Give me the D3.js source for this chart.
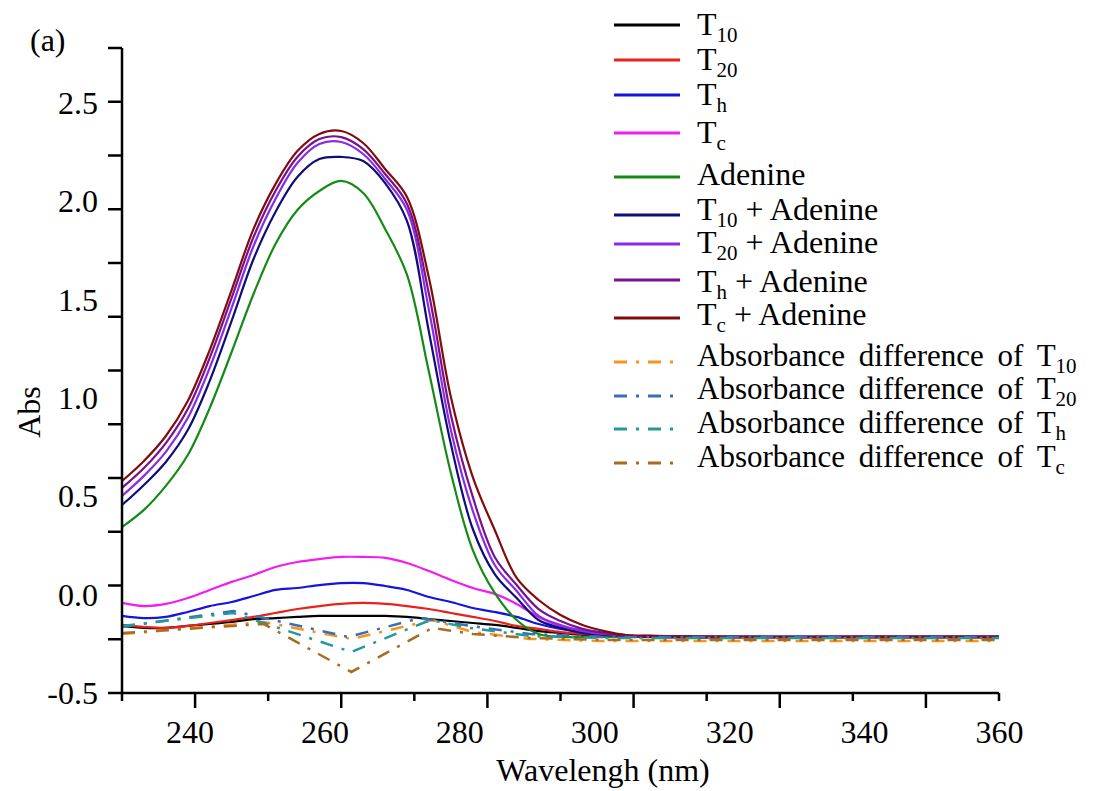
<!DOCTYPE html>
<html><head><meta charset="utf-8">
<script src="https://cdn.jsdelivr.net/npm/d3@7"></script>
<style>
html,body{margin:0;padding:0;background:#fff;}
svg{display:block;}
text{font-family:"Liberation Serif","Tinos","Times New Roman",serif;fill:#000;}
</style></head><body>
<svg id="chart" width="1100" height="791"></svg>
<script>
// ---- data ----
const wavelength = [230, 233.25, 236.5, 239.75, 243, 246.25, 249.5, 252.75, 256, 259.25, 262.5, 265.75, 269, 272.25, 275.5, 278.75, 282, 285.25, 288.5, 291.75, 295, 298.25, 301.5, 304.75, 308, 320, 340, 360];

const absT10 = [-0.159, -0.169, -0.169, -0.159, -0.149, -0.139, -0.124, -0.119, -0.113, -0.108, -0.108, -0.108, -0.108, -0.113, -0.124, -0.134, -0.144, -0.154, -0.169, -0.185, -0.195, -0.205, -0.210, -0.215, -0.215, -0.217, -0.217, -0.217];
const absT20 = [-0.154, -0.164, -0.169, -0.159, -0.144, -0.129, -0.113, -0.093, -0.073, -0.058, -0.047, -0.042, -0.047, -0.058, -0.073, -0.093, -0.113, -0.134, -0.159, -0.174, -0.190, -0.200, -0.210, -0.215, -0.215, -0.217, -0.217, -0.217];
const absTh = [-0.108, -0.119, -0.113, -0.088, -0.058, -0.037, -0.007, 0.024, 0.034, 0.049, 0.059, 0.059, 0.044, 0.024, -0.012, -0.037, -0.068, -0.088, -0.113, -0.149, -0.174, -0.190, -0.200, -0.210, -0.215, -0.215, -0.215, -0.215];
const absTc = [-0.042, -0.058, -0.047, -0.017, 0.024, 0.065, 0.100, 0.141, 0.166, 0.181, 0.192, 0.192, 0.187, 0.161, 0.120, 0.075, 0.034, 0.004, -0.047, -0.113, -0.159, -0.180, -0.195, -0.205, -0.210, -0.213, -0.213, -0.213];
const absAdenine = [0.344, 0.431, 0.553, 0.710, 0.949, 1.234, 1.529, 1.783, 1.956, 2.053, 2.104, 2.043, 1.860, 1.626, 1.132, 0.619, 0.227, 0.009, -0.129, -0.200, -0.215, -0.215, -0.215, -0.215, -0.215, -0.215, -0.215, -0.215];
const absT10Adenine = [0.456, 0.558, 0.675, 0.837, 1.087, 1.392, 1.707, 1.946, 2.124, 2.215, 2.226, 2.205, 2.093, 1.900, 1.336, 0.766, 0.334, 0.105, -0.017, -0.129, -0.169, -0.195, -0.205, -0.210, -0.215, -0.215, -0.215, -0.215];
const absT20Adenine = [0.502, 0.604, 0.726, 0.898, 1.153, 1.458, 1.773, 2.012, 2.195, 2.292, 2.302, 2.241, 2.114, 1.956, 1.448, 0.837, 0.426, 0.151, 0.019, -0.108, -0.154, -0.185, -0.200, -0.210, -0.210, -0.213, -0.213, -0.213];
const absThAdenine = [0.543, 0.644, 0.771, 0.944, 1.204, 1.509, 1.819, 2.053, 2.226, 2.317, 2.327, 2.266, 2.139, 1.987, 1.529, 0.914, 0.497, 0.192, 0.049, -0.073, -0.134, -0.174, -0.195, -0.210, -0.210, -0.215, -0.215, -0.215];
const absTcAdenine = [0.578, 0.680, 0.807, 0.985, 1.244, 1.549, 1.860, 2.088, 2.256, 2.343, 2.358, 2.297, 2.165, 2.022, 1.610, 1.005, 0.598, 0.329, 0.085, -0.027, -0.103, -0.154, -0.185, -0.205, -0.210, -0.215, -0.215, -0.215];

// absorbance-difference curves (own wavelength samples)
const diffT10X = [230, 251, 264, 276, 282, 290.5, 301, 360];
const diffT10Y = [-0.200, -0.139, -0.225, -0.129, -0.190, -0.225, -0.236, -0.236];
const diffT20X = [230, 246.5, 263.5, 274.2, 281.6, 290.5, 301, 360];
const diffT20Y = [-0.164, -0.083, -0.215, -0.119, -0.159, -0.200, -0.215, -0.215];
const diffThX = [230, 246.5, 264, 275.7, 281.6, 290.5, 301, 360];
const diffThY = [-0.159, -0.093, -0.291, -0.129, -0.169, -0.210, -0.220, -0.220];
const diffTcX = [230, 251, 264, 276, 282, 290.5, 301, 360];
const diffTcY = [-0.195, -0.149, -0.393, -0.169, -0.200, -0.220, -0.230, -0.230];

const xTickLabels = [240, 260, 280, 300, 320, 340, 360];
const yTickLabels = [-0.5, 0.0, 0.5, 1.0, 1.5, 2.0, 2.5];

const legendNames = [
  ["T", "10", ""], ["T", "20", ""], ["T", "h", ""], ["T", "c", ""], ["Adenine", "", ""],
  ["T", "10", " + Adenine"], ["T", "20", " + Adenine"], ["T", "h", " + Adenine"], ["T", "c", " + Adenine"],
  ["Absorbance difference of T", "10", ""], ["Absorbance difference of T", "20", ""],
  ["Absorbance difference of T", "h", ""], ["Absorbance difference of T", "c", ""]
];

// ---- styles / layout ----
const colors = ["#000000", "#e8221c", "#1414e0", "#f21cf2", "#168a16", "#0e0e78", "#8a2be6", "#7a118c", "#800c0c",
                "#f7941d", "#3a6eb5", "#22999a", "#a86b20"];
const dashPattern = "13,9,3,9";
const FONT = '"Liberation Serif","Tinos","Times New Roman",serif';

const svg = d3.select("#chart");
const W = 1100, H = 791;
svg.append("rect").attr("width", W).attr("height", H).attr("fill", "#fff");

const x = d3.scaleLinear().domain([230, 360]).range([122, 999]);
const y = d3.scaleLinear().domain([-0.5, 2.78]).range([693, 48]);

const solidSeries = [absT10, absT20, absTh, absTc, absAdenine, absT10Adenine, absT20Adenine, absThAdenine, absTcAdenine];
const diffSeries = [[diffT10X, diffT10Y], [diffT20X, diffT20Y], [diffThX, diffThY], [diffTcX, diffTcY]];

const smooth = d3.line().x(d => x(d[0])).y(d => y(d[1])).curve(d3.curveCatmullRom.alpha(0.5));
const straight = d3.line().x(d => x(d[0])).y(d => y(d[1]));

const plot = svg.append("g");
solidSeries.forEach((vals, i) => {
  plot.append("path")
    .datum(wavelength.map((w, j) => [w, vals[j]]))
    .attr("d", smooth)
    .attr("fill", "none")
    .attr("stroke", colors[i])
    .attr("stroke-width", 2.2)
    .attr("stroke-linejoin", "round");
});
diffSeries.forEach(([xs, ys], i) => {
  plot.append("path")
    .datum(xs.map((w, j) => [w, ys[j]]))
    .attr("d", straight)
    .attr("fill", "none")
    .attr("stroke", colors[9 + i])
    .attr("stroke-width", 2.5)
    .attr("stroke-dasharray", dashPattern);
});

// ---- axes ----
const xTickMarks = d3.range(13).map(i => 230 + i * 130 / 12);
const yTickMarks = d3.range(13).map(i => -0.5 + i * 3.28 / 12);

const xMarks = svg.append("g").attr("transform", "translate(0,693)");
xMarks.append("line").attr("x1", x(230)).attr("x2", x(360)).attr("y1", 0).attr("y2", 0)
  .attr("stroke", "#000").attr("stroke-width", 2.5);
xMarks.selectAll("line.tk").data(xTickMarks).join("line").attr("class", "tk")
  .attr("x1", d => x(d)).attr("x2", d => x(d))
  .attr("y1", 0).attr("y2", (d, i) => i % 2 === 1 ? 15 : 8)
  .attr("stroke", "#000").attr("stroke-width", 2.5);

const xAxis = d3.axisBottom(x).tickValues(xTickLabels).tickSize(0).tickPadding(0).tickFormat(d => String(d));
const gx = svg.append("g").attr("transform", "translate(0,693)").call(xAxis);
gx.attr("font-family", null);
gx.select(".domain").remove();
gx.selectAll("text").attr("font-size", 32).attr("dy", null).attr("y", 50)
  .style("font-family", FONT).attr("fill", "#000");

const yMarks = svg.append("g").attr("transform", "translate(122,0)");
yMarks.append("line").attr("x1", 0).attr("x2", 0).attr("y1", y(2.78)).attr("y2", y(-0.5))
  .attr("stroke", "#000").attr("stroke-width", 2.5);
yMarks.selectAll("line.tk").data(yTickMarks).join("line").attr("class", "tk")
  .attr("y1", d => y(d)).attr("y2", d => y(d))
  .attr("x1", 0).attr("x2", -14)
  .attr("stroke", "#000").attr("stroke-width", 2.5);

const yAxis = d3.axisLeft(y).tickValues(yTickLabels).tickSize(0).tickPadding(24).tickFormat(d => d.toFixed(1));
const gy = svg.append("g").attr("transform", "translate(122,0)").call(yAxis);
gy.attr("font-family", null);
gy.select(".domain").remove();
gy.selectAll("text").attr("font-size", 32).attr("dy", "0.33em")
  .style("font-family", FONT).attr("fill", "#000");

// titles
svg.append("text").attr("x", 603).attr("y", 781).attr("text-anchor", "middle")
  .attr("font-size", 32).style("font-family", FONT).text("Wavelengh (nm)");
svg.append("text").attr("transform", "translate(40,412) rotate(-90)").attr("text-anchor", "middle")
  .attr("font-size", 32).style("font-family", FONT).text("Abs");
svg.append("text").attr("x", 30).attr("y", 51).attr("font-size", 32).style("font-family", FONT).text("(a)");

// ---- legend ----
const legendLineY = [25, 60, 95, 133, 177, 215, 244, 280, 318, 362, 396, 429, 463];
const legendTextY = [35, 70, 105, 143, 185, 220, 253, 292, 325, 366, 399, 433, 467];
const legend = svg.append("g");
legendNames.forEach((nm, i) => {
  const ln = legend.append("line").attr("x1", 614).attr("x2", 680)
    .attr("y1", legendLineY[i]).attr("y2", legendLineY[i])
    .attr("stroke", colors[i]).attr("stroke-width", i >= 9 ? 2.8 : 3);
  if (i >= 9) ln.attr("stroke-dasharray", dashPattern);
  const t = legend.append("text").attr("x", 697).attr("y", legendTextY[i])
    .attr("font-size", i >= 9 ? 31 : 32).style("font-family", FONT)
    .attr("word-spacing", i >= 9 ? 6 : 0);
  t.append("tspan").text(nm[0]);
  if (nm[1]) {
    t.append("tspan").attr("font-size", 21).attr("dy", 7).text(nm[1]);
    if (nm[2]) t.append("tspan").attr("dy", -7).text(nm[2]);
  }
});
</script>
</body></html>
